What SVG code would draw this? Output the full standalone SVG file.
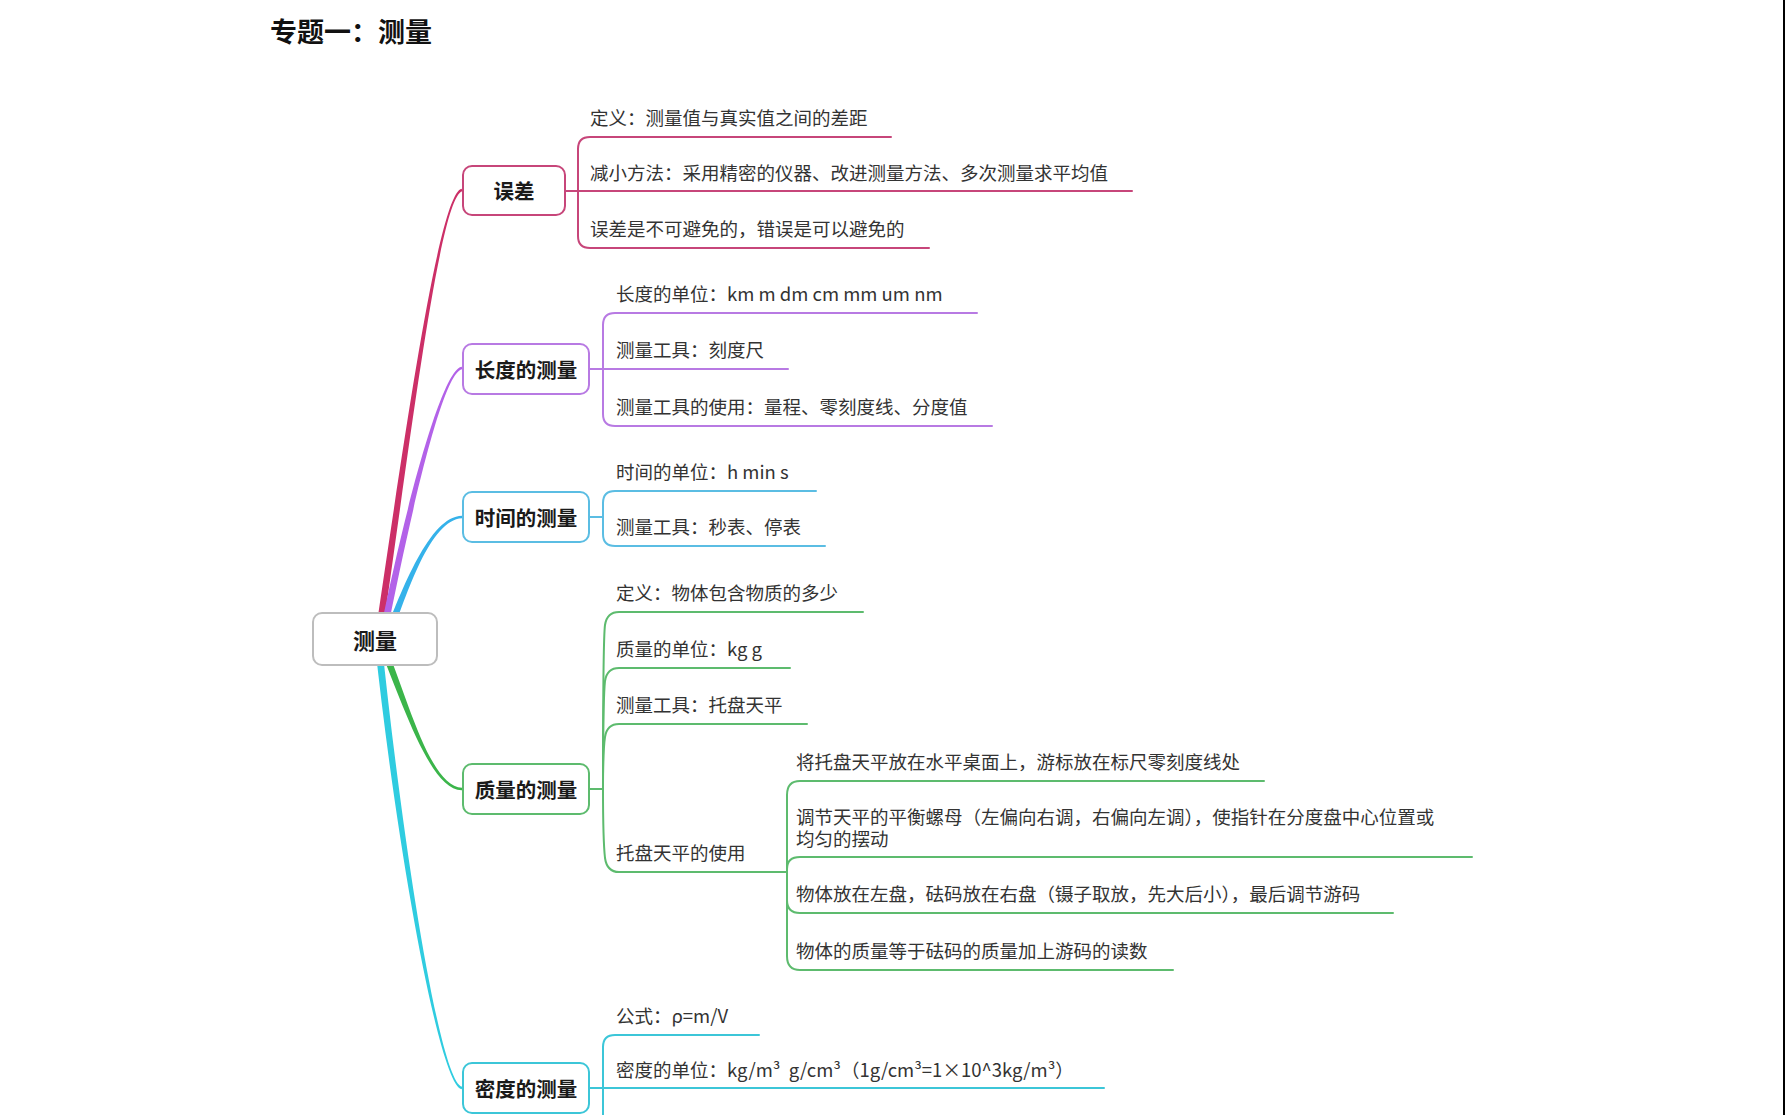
<svg xmlns="http://www.w3.org/2000/svg" width="1785" height="1115" viewBox="0 0 1785 1115">
<style>
.title{font-family:"Noto Sans CJK SC","Liberation Sans",sans-serif;font-size:27px;font-weight:bold;fill:#111}
.root{font-family:"Noto Sans CJK SC","Liberation Sans",sans-serif;font-size:22px;font-weight:bold;fill:#1a1a1a}
.main{font-family:"Noto Sans CJK SC","Liberation Sans",sans-serif;font-size:20.5px;font-weight:bold;fill:#1a1a1a}
.t{font-family:"Noto Sans CJK SC","Liberation Sans",sans-serif;font-size:18.5px;fill:#333}
.box{fill:#fff;stroke-width:2}
.c{fill:none;stroke-width:2;stroke-linecap:round}
.b{stroke:none}
</style>
<rect x="0" y="0" width="1785" height="1115" fill="#fff"/>
<rect x="1783" y="0" width="2" height="1115" fill="#000"/>
<text class="title" x="270" y="42">专题一：测量</text>

<g id="connectors">
  <!-- root branches (tapered) -->
  <path class="b" fill="#CC2F67" d="M374.53,639.5 C407.03,419.57 439.56,193.05 461.71,188.73 L462.29,191.27 C440.44,196.95 412.97,420.43 381.47,640.5 Z"/>
  <path class="b" fill="#B362E8" d="M378.57,639.31 C408.86,489.37 443.78,368.01 461.86,366.71 L462.14,369.29 C444.22,371.99 415.14,490.63 385.43,640.69 Z"/>
  <path class="b" fill="#35B2EA" d="M382.73,638.76 C402.01,588.86 429.94,516 461.96,515.7 L462.04,518.3 C430.06,520 407.99,591.14 389.27,641.24 Z"/>
  <path class="b" fill="#3BB54A" d="M383.23,638.65 C407.95,698.77 430,787 462,787.7 L462,790.3 C430,791 402.05,701.23 376.77,641.35 Z"/>
  <path class="b" fill="#2FCCE0" d="M381.48,639.64 C403.18,849.67 440.27,1083.02 462.18,1086.71 L461.82,1089.29 C439.73,1086.98 396.82,850.33 374.52,640.36 Z"/>

  <!-- 误差 children -->
  <g stroke="#C7467A">
    <path class="c" d="M565,191 H578"/>
    <path class="c" d="M578,191 V149 Q578,137 590,137 H891"/>
    <path class="c" d="M578,191 H1132"/>
    <path class="c" d="M578,191 V236 Q578,248 590,248 H929"/>
  </g>
  <!-- 长度 children -->
  <g stroke="#B87AE3">
    <path class="c" d="M589,369 H603"/>
    <path class="c" d="M603,369 V325 Q603,313 615,313 H977"/>
    <path class="c" d="M603,369 H788"/>
    <path class="c" d="M603,369 V414 Q603,426 615,426 H992"/>
  </g>
  <!-- 时间 children -->
  <g stroke="#5BBDE3">
    <path class="c" d="M589,517 H603"/>
    <path class="c" d="M603,517 V503 Q603,491 615,491 H816"/>
    <path class="c" d="M603,517 V534 Q603,546 615,546 H825"/>
  </g>
  <!-- 质量 children -->
  <g stroke="#5DBB6E">
    <path class="c" d="M589,789 H603"/>
    <path class="c" d="M603,789 C603,700 603,640 605,625 Q607,612 619,612 H863"/>
    <path class="c" d="M603,789 C603,730 603,700 605,681 Q607,668 619,668 H790"/>
    <path class="c" d="M603,789 C603,760 603,750 605,737 Q607,724 619,724 H807"/>
    <path class="c" d="M603,789 C603,820 603,840 605,858 Q607,872 619,872 H787"/>
    <path class="c" d="M787,872 V795 Q787,781 800,781 H1264"/>
    <path class="c" d="M787,872 V869 Q787,857 800,857 H1472"/>
    <path class="c" d="M787,872 V900 Q787,913 800,913 H1393"/>
    <path class="c" d="M787,872 V956 Q787,970 800,970 H1173"/>
  </g>
  <!-- 密度 children -->
  <g stroke="#3CC6D8">
    <path class="c" d="M589,1088 H603"/>
    <path class="c" d="M603,1088 V1047 Q603,1035 615,1035 H759"/>
    <path class="c" d="M603,1088 H1104"/>
    <path class="c" d="M603,1088 V1125"/>
  </g>
</g>

<g id="node-root">
  <rect class="box" x="313" y="613" width="124" height="52" rx="9" stroke="#bdbdbd"/>
  <text class="root" x="375" y="649" text-anchor="middle">测量</text>
</g>

<g id="node-wucha">
  <rect class="box" x="463" y="166" width="102" height="49" rx="9" stroke="#C7467A"/>
  <text class="main" x="514" y="199" text-anchor="middle">误差</text>
</g>
<g id="wucha-1"><text class="t" x="590" y="124.5">定义：测量值与真实值之间的差距</text></g>
<g id="wucha-2"><text class="t" x="590" y="179.5">减小方法：采用精密的仪器、改进测量方法、多次测量求平均值</text></g>
<g id="wucha-3"><text class="t" x="590" y="235.5">误差是不可避免的，错误是可以避免的</text></g>

<g id="node-changdu">
  <rect class="box" x="463" y="344" width="126" height="50" rx="9" stroke="#B87AE3"/>
  <text class="main" x="526" y="377.5" text-anchor="middle">长度的测量</text>
</g>
<g id="changdu-1"><text class="t" x="616" y="300.5">长度的单位：km m dm cm mm um nm</text></g>
<g id="changdu-2"><text class="t" x="616" y="356.5">测量工具：刻度尺</text></g>
<g id="changdu-3"><text class="t" x="616" y="413.5">测量工具的使用：量程、零刻度线、分度值</text></g>

<g id="node-shijian">
  <rect class="box" x="463" y="492" width="126" height="50" rx="9" stroke="#5BBDE3"/>
  <text class="main" x="526" y="525.5" text-anchor="middle">时间的测量</text>
</g>
<g id="shijian-1"><text class="t" x="616" y="478.5">时间的单位：h min s</text></g>
<g id="shijian-2"><text class="t" x="616" y="533.5">测量工具：秒表、停表</text></g>

<g id="node-zhiliang">
  <rect class="box" x="463" y="764" width="126" height="50" rx="9" stroke="#5DBB6E"/>
  <text class="main" x="526" y="797.5" text-anchor="middle">质量的测量</text>
</g>
<g id="zhiliang-1"><text class="t" x="616" y="599.5">定义：物体包含物质的多少</text></g>
<g id="zhiliang-2"><text class="t" x="616" y="655.5">质量的单位：kg g</text></g>
<g id="zhiliang-3"><text class="t" x="616" y="711.5">测量工具：托盘天平</text></g>
<g id="zhiliang-4"><text class="t" x="616" y="859.5">托盘天平的使用</text></g>
<g id="tianping-1"><text class="t" x="796" y="768.5">将托盘天平放在水平桌面上，游标放在标尺零刻度线处</text></g>
<g id="tianping-2"><text class="t" x="796" y="824"><tspan x="796" y="824">调节天平的平衡螺母（左偏向右调，右偏向左调），使指针在分度盘中心位置或</tspan><tspan x="796" y="846">均匀的摆动</tspan></text></g>
<g id="tianping-3"><text class="t" x="796" y="900.5">物体放在左盘，砝码放在右盘（镊子取放，先大后小），最后调节游码</text></g>
<g id="tianping-4"><text class="t" x="796" y="957.5">物体的质量等于砝码的质量加上游码的读数</text></g>

<g id="node-midu">
  <rect class="box" x="463" y="1063" width="126" height="50" rx="9" stroke="#3CC6D8"/>
  <text class="main" x="526" y="1096.5" text-anchor="middle">密度的测量</text>
</g>
<g id="midu-1"><text class="t" x="616" y="1022.5">公式：ρ=m/V</text></g>
<g id="midu-2"><text class="t" x="616" y="1076.5">密度的单位：kg/m³&#160; g/cm³（1g/cm³=1×10^3kg/m³）</text></g>
</svg>
